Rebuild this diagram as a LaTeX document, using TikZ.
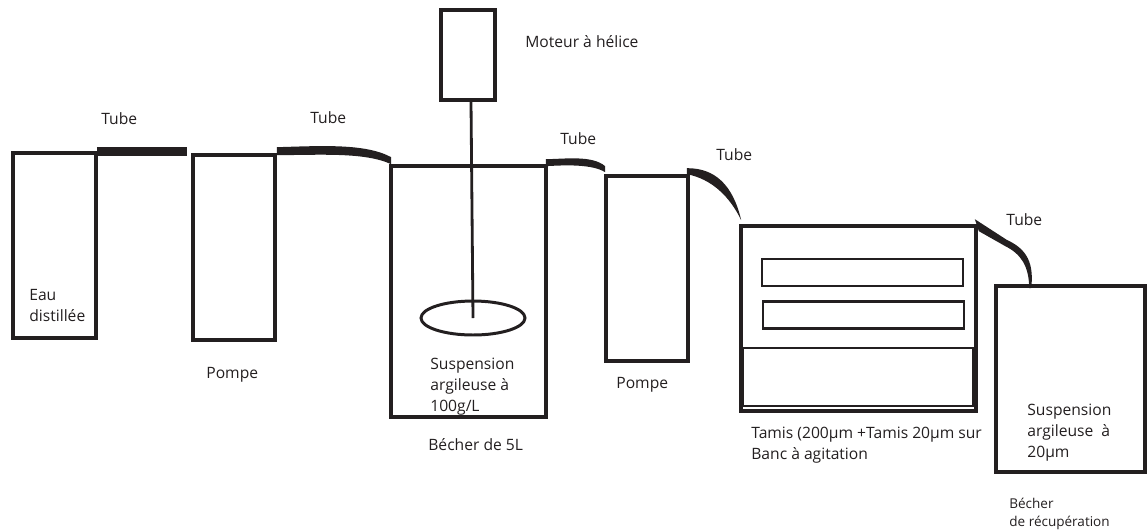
\documentclass[tikz,border=0pt]{standalone}
\usepackage{fontspec}
\setmainfont{Open Sans}
\usetikzlibrary{positioning,shapes.geometric}
\definecolor{ink}{HTML}{231F20}

\begin{document}
\begin{tikzpicture}[
    x=0.02cm, y=-0.02cm,
    font=\fontsize{8.9}{11.8}\selectfont,
    text=ink,
    vessel/.style={rectangle, draw=ink, line width=2.1pt, inner sep=0pt},
    tamis/.style={rectangle, draw=ink, line width=1.4pt, inner sep=0pt, minimum width=4.02cm, minimum height=0.54cm},
    tube/.style={fill=ink},
    lbl/.style={anchor=base west, inner sep=0pt, align=left}
  ]
  \useasboundingbox (0,0) rectangle (1148,531);
  % recipients
  \node[vessel, minimum width=1.66cm, minimum height=3.7cm] (eau) at (54.5,245.5) {};
  \node[vessel, minimum width=1.64cm, minimum height=3.7cm] (pompeA) at (234,247.5) {};
  \node[vessel, minimum width=3.1cm, minimum height=5.02cm] (becherA) at (468.5,291.5) {};
  \node[vessel, minimum width=1.08cm, minimum height=1.8cm] (moteur) at (468,55) {};
  \node[vessel, minimum width=1.64cm, minimum height=3.7cm] (pompeB) at (647,268.5) {};
  \node[vessel, minimum width=4.7cm, minimum height=3.7cm] (banc) at (858.5,318.5) {};
  \node[tamis] (tamisA) at (862.5,272.5) {};
  \node[tamis] (tamisB) at (863.5,315) {};
  \node[vessel, line width=1.3pt, minimum width=4.6cm, minimum height=1.16cm] (plateau) at (858,377) {};
  \node[vessel, minimum width=2.98cm, minimum height=3.72cm] (becherB) at (1070.5,379) {};
  \node[ellipse, draw=ink, line width=1.7pt, inner sep=0pt, minimum width=2.08cm, minimum height=0.68cm] (helice) at (473,318) {};
  % tubes
  \draw[ink, line width=5pt, shorten <=-0.02cm, shorten >=0.08cm] ([yshift=-0.01cm]eau.north east) -- ([yshift=-0.01cm]eau.north east -| pompeA.west);
  \fill[tube] ([shift={(0,-6)}]pompeA.north east) .. controls (320,146) and (365,143) .. ([shift={(2,-7)}]becherA.north west)
    -- ([shift={(2,0)}]becherA.north west) .. controls (365,152) and (320,155) .. ([shift={(0,2)}]pompeA.north east) -- cycle;
  \fill[tube] ([shift={(-2,-5)}]becherA.north east) .. controls (565,159) and (592,155) .. ([shift={(1,-8)}]pompeB.north west)
    -- ([shift={(1,-2)}]pompeB.north west) .. controls (592,164) and (565,165) .. ([shift={(-2,2)}]becherA.north east) -- cycle;
  \fill[tube] ([shift={(-3,-6)}]pompeB.north east) .. controls (715,168) and (733,185) .. ([shift={(2,-4)}]banc.north west)
    .. controls (730,197) and (712,179) .. ([shift={(-3,0)}]pompeB.north east) -- cycle;
  \fill[tube] ([shift={(-3,-5)}]banc.north east) -- (1007,240) .. controls (1022,247) and (1035,258) .. ([shift={(37,4)}]becherB.north west)
    -- ([shift={(35,4)}]becherB.north west) .. controls (1029,266) and (1021,254) .. (1005,246) -- ([shift={(1,7)}]banc.north east) -- cycle;
  % arbre
  \draw[ink, line width=1.6pt] ([xshift=0.06cm]moteur.south) -- (helice.center);
  % textes
  \node[lbl] (tubeA) at (101,124) {Tube};
  \node[lbl] (tubeB) at (310,123) {Tube};
  \node[lbl] (tubeC) at (560,144) {Tube};
  \node[lbl] (tubeD) at (716,160) {Tube};
  \node[lbl] (tubeE) at (1006,225) {Tube};
  \node[lbl] (eauL) at (29,321) {Eau\\distillée};
  \node[lbl] (pompeAL) at (206,378) {Pompe};
  \node[lbl] (pompeBL) at (616,388) {Pompe};
  \node[lbl] (moteurL) at (525,47) {Moteur à hélice};
  \node[lbl] (susA) at (430,411) {Suspension\\argileuse à\\100g/L};
  \node[lbl] (becherAL) at (428,450) {Bécher de 5L};
  \node[lbl] (tamisL) at (751,459) {Tamis (200µm +Tamis 20µm sur\\Banc à agitation};
  \node[lbl] (susB) at (1027,457) {Suspension\\argileuse~ à\\20µm};
  \node[lbl, font=\fontsize{7.7}{10.2}\selectfont] (becherBL) at (1009,526) {Bécher\\de récupération};
\end{tikzpicture}
\end{document}
